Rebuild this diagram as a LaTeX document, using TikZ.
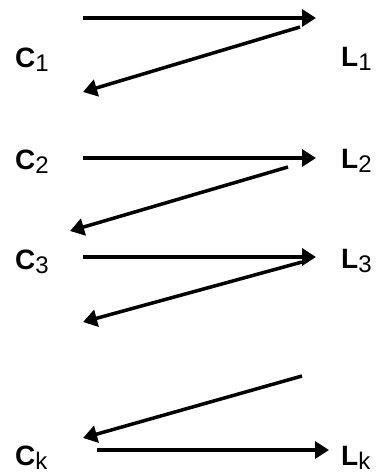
\documentclass[tikz,border=0pt]{standalone}
\usepackage{fontspec}
\setmainfont{Liberation Sans}
\usetikzlibrary{arrows.meta}
\newcommand{\lab}[2]{\textbf{#1}\raisebox{-4pt}{\fontsize{24}{24}\selectfont #2}}
\begin{document}
\begin{tikzpicture}[x=1pt,y=-1pt,
  arr/.style={line width=3.5pt,-{Triangle[length=14pt,width=17pt]}},
  lbl/.style={anchor=base west,inner sep=0pt,font=\fontsize{28}{28}\selectfont}]
\useasboundingbox (0,0) rectangle (384,474);
% labels
\node[lbl] (c1) at (15,67) {\lab{C}{1}};
\node[lbl] (l1) at (341,66) {\lab{L}{1}};
\node[lbl] (c2) at (15,169) {\lab{C}{2}};
\node[lbl] (l2) at (341,168) {\lab{L}{2}};
\node[lbl] (c3) at (15,269) {\lab{C}{3}};
\node[lbl] (l3) at (341,268) {\lab{L}{3}};
\node[lbl] (ck) at (15,465) {\lab{C}{k}};
\node[lbl] (lk) at (341,465) {\lab{L}{k}};
% arrow end points
\coordinate (h1a) at (83,18);  \coordinate (h1b) at (316,18);
\coordinate (d1a) at (300,27); \coordinate (d1b) at (83,92);
\coordinate (h2a) at (83,158); \coordinate (h2b) at (316,158);
\coordinate (d2a) at (288,167);\coordinate (d2b) at (70,231);
\coordinate (h3a) at (83,257); \coordinate (h3b) at (316,257);
\coordinate (d3a) at (302,262);\coordinate (d3b) at (83,322);
\coordinate (dka) at (302,376);\coordinate (dkb) at (83,438);
\coordinate (hka) at (97,450); \coordinate (hkb) at (329,450);
% arrows
\draw[arr] (h1a) -- (h1b);
\draw[arr] (d1a) -- (d1b);
\draw[arr] (h2a) -- (h2b);
\draw[arr] (d2a) -- (d2b);
\draw[arr] (h3a) -- (h3b);
\draw[arr] (d3a) -- (d3b);
\draw[arr] (dka) -- (dkb);
\draw[arr] (hka) -- (hkb);
\end{tikzpicture}
\end{document}
